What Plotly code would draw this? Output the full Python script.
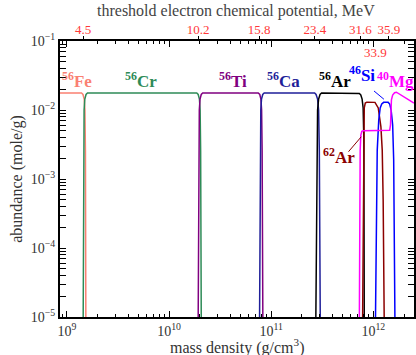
import numpy as np
import plotly.graph_objects as go

# log10 of mass density (g/cm^3) and abundance (mole/g) for each nucleus
fe_logrho = [8.93, 9.143, 9.157, 9.169, 9.176, 9.181, 9.185]
fe_abund = [0.0176, 0.0176, 0.0168, 0.0144, 0.0100, 0.0026, 1e-5]

cr_logrho = [9.159, 9.163, 9.168, 9.175, 9.187, 9.201,
             10.271, 10.285, 10.297, 10.304, 10.309, 10.315]
cr_abund = [1e-5, 0.0026, 0.0100, 0.0144, 0.0168, 0.0176,
            0.0176, 0.0168, 0.0144, 0.0100, 0.0026, 1e-5]

ti_logrho = [10.285, 10.291, 10.296, 10.303, 10.315, 10.329,
             10.873, 10.888, 10.899, 10.906, 10.911, 10.918]
ti_abund = [1e-5, 0.0026, 0.0100, 0.0144, 0.0168, 0.0176,
            0.0176, 0.0168, 0.0144, 0.0100, 0.0026, 1e-5]

ca_logrho = [10.886, 10.893, 10.898, 10.905, 10.917, 10.931,
             11.425, 11.439, 11.454, 11.464, 11.471, 11.480]
ca_abund = [1e-5, 0.0026, 0.0100, 0.0144, 0.0168, 0.0176,
            0.0176, 0.0168, 0.0144, 0.0100, 0.0026, 1e-5]

ar56_logrho = [11.437, 11.446, 11.454, 11.464, 11.478, 11.493,
               11.843, 11.863, 11.877, 11.890, 11.900, 11.907, 11.911]
ar56_abund = [1e-5, 0.0026, 0.0100, 0.0144, 0.0168, 0.0176,
              0.0176, 0.0173, 0.0165, 0.0144, 0.0107, 0.0037, 1e-5]

ar62_logrho = [11.895, 11.900, 11.905, 11.911, 11.921, 11.936,
               12.016, 12.048, 12.074, 12.087, 12.096, 12.103, 12.106]
ar62_abund = [1e-5, 5.0e-4, 0.0051, 0.0107, 0.0126, 0.0130,
              0.0129, 0.0107, 0.0057, 0.0026, 5.0e-4, 6.7e-5, 1e-5]

si46_logrho = [12.021, 12.028, 12.038, 12.053, 12.067, 12.082, 12.101,
               12.145, 12.160, 12.174, 12.189, 12.199, 12.206, 12.211]
si46_abund = [1e-5, 2.5e-4, 0.0026, 0.0072, 0.0107, 0.0122, 0.0129,
              0.0129, 0.0122, 0.0100, 0.0061, 0.0019, 1.8e-4, 1e-5]

mg40_logrho = [11.863, 11.867, 11.871, 11.877, 11.887, 11.902, 12.060, 12.064,
               12.160, 12.168, 12.172, 12.177, 12.189, 12.208, 12.226, 12.398]
mg40_abund = [1e-5, 5.0e-4, 0.0026, 0.0043, 0.0049, 0.0050, 0.0050, 0.0051,
              0.0051, 0.0061, 0.0100, 0.0140, 0.0165, 0.0178, 0.0181, 0.0126]

# threshold electron chemical potentials (MeV) and the densities where they occur
threshold_mu = ["4.5", "10.2", "15.8", "23.4", "31.6", "35.9"]
threshold_logrho = [9.159, 10.285, 10.882, 11.428, 11.873, 12.152]
extra_mu = "33.9"
extra_logrho = 12.023

series = [
    ("<sup>56</sup>Fe", fe_logrho, fe_abund, "#fa8072"),
    ("<sup>56</sup>Cr", cr_logrho, cr_abund, "#2e8b57"),
    ("<sup>56</sup>Ti", ti_logrho, ti_abund, "#800080"),
    ("<sup>56</sup>Ca", ca_logrho, ca_abund, "#1f1f99"),
    ("<sup>56</sup>Ar", ar56_logrho, ar56_abund, "#000000"),
    ("<sup>62</sup>Ar", ar62_logrho, ar62_abund, "#8b0000"),
    ("<sup>46</sup>Si", si46_logrho, si46_abund, "#0000ff"),
    ("<sup>40</sup>Mg", mg40_logrho, mg40_abund, "#ff00ff"),
]

FONT = "Liberation Serif"
RED = "#ff3838"
fig = go.Figure()
for name, lx, ab, col in series:
    fig.add_trace(go.Scatter(
        x=np.power(10.0, lx), y=ab, mode="lines", name=name,
        line=dict(color=col, width=1.5), hoverinfo="skip",
    ))

# carrier trace for the top (chemical potential) axis
fig.add_trace(go.Scatter(
    x=np.power(10.0, threshold_logrho), y=[None] * len(threshold_logrho),
    xaxis="x2", mode="markers", showlegend=False, hoverinfo="skip",
))

xrange_log = [8.932, 12.398]
yr_major = [1e-5, 1e-4, 1e-3, 1e-2, 1e-1]
yr_text = ["10<sup>−5</sup>", "10<sup>−4</sup>", "10<sup>−3</sup>",
           "10<sup>−2</sup>", "10<sup>−1</sup>"]
y_minor = [m * 10.0 ** e for e in range(-5, -1) for m in range(2, 10)]
x_major = [1e9, 1e10, 1e11, 1e12]
x_text = ["10<sup>9</sup>", "10<sup>10</sup>", "10<sup>11</sup>", "10<sup>12</sup>"]
x_minor = [m * 10.0 ** e for e in range(8, 13) for m in range(2, 10)]

fig.update_layout(
    width=416, height=355,
    margin=dict(l=60, r=0, t=41, b=38),
    paper_bgcolor="white", plot_bgcolor="white",
    showlegend=False,
    font=dict(family=FONT, size=14, color="#333333"),
    xaxis=dict(
        type="log", range=xrange_log,
        tickmode="array", tickvals=x_major, ticktext=x_text,
        ticks="inside", ticklen=6, tickwidth=1.2, tickcolor="black",
        minor=dict(tickvals=x_minor, ticks="inside", ticklen=3,
                   tickwidth=1, tickcolor="black", showgrid=False),
        showline=True, linecolor="black", linewidth=2, mirror="allticks",
        showgrid=False, zeroline=False,
        tickfont=dict(family=FONT, size=14, color="#333333"),
    ),
    xaxis2=dict(
        type="log", range=xrange_log, overlaying="x", side="top",
        tickmode="array", tickvals=[10.0 ** v for v in threshold_logrho],
        ticktext=threshold_mu,
        ticks="outside", ticklen=4, tickwidth=1.2, tickcolor="black",
        ticklabelstandoff=-3,
        showline=False, showgrid=False, zeroline=False,
        tickfont=dict(family=FONT, size=13, color=RED),
    ),
    yaxis=dict(
        type="log", range=[-5, -1],
        tickmode="array", tickvals=yr_major, ticktext=yr_text,
        ticks="inside", ticklen=6, tickwidth=1.2, tickcolor="black",
        minor=dict(tickvals=y_minor, ticks="inside", ticklen=3,
                   tickwidth=1, tickcolor="black", showgrid=False),
        showline=True, linecolor="black", linewidth=2, mirror="allticks",
        showgrid=False, zeroline=False,
        tickfont=dict(family=FONT, size=14, color="#333333"),
        title=dict(text="abundance (mole/g)",
                   font=dict(family=FONT, size=16, color="#333333"),
                   standoff=4),
    ),
)

# bottom axis title
fig.add_annotation(
    text="mass density (g/cm<sup>3</sup>)",
    xref="paper", yref="paper", x=0.5, y=-0.108,
    xanchor="center", yanchor="middle",
    showarrow=False, font=dict(family=FONT, size=16, color="#333333"),
)
# top axis title
fig.add_annotation(
    text="threshold electron chemical potential, MeV",
    xref="paper", yref="paper", x=0.496, y=1.11,
    xanchor="center", yanchor="middle",
    showarrow=False, font=dict(family=FONT, size=16, color="#444444"),
)
# crowded threshold label placed just under the top axis
fig.add_annotation(
    text=extra_mu, xref="x2", yref="paper", x=extra_logrho, y=0.958,
    xanchor="center", yanchor="middle",
    showarrow=False, font=dict(family=FONT, size=13, color=RED),
)

# nucleus labels
label_pos = {
    "<sup>56</sup>Fe": (0.048, 0.858),
    "<sup>56</sup>Cr": (0.228, 0.858),
    "<sup>56</sup>Ti": (0.489, 0.858),
    "<sup>56</sup>Ca": (0.632, 0.858),
    "<sup>56</sup>Ar": (0.777, 0.858),
    "<sup>46</sup>Si": (0.854, 0.879),
    "<sup>40</sup>Mg": (0.949, 0.858),
    "<sup>62</sup>Ar": (0.789, 0.583),
}
for name, lx, ab, col in series:
    px, py = label_pos[name]
    fig.add_annotation(
        text="<b>" + name + "</b>", xref="paper", yref="paper", x=px, y=py,
        xanchor="center", yanchor="middle",
        showarrow=False, font=dict(family=FONT, size=17, color=col),
    )

# pointer lines from labels to their curves
fig.add_shape(type="line", xref="paper", yref="paper",
              x0=0.887, y0=0.819, x1=0.915, y1=0.789,
              line=dict(color="#0000ff", width=1))
fig.add_shape(type="line", xref="paper", yref="paper",
              x0=0.815, y0=0.599, x1=0.851, y1=0.653,
              line=dict(color="#8b0000", width=1))

fig.write_html("out.html")
